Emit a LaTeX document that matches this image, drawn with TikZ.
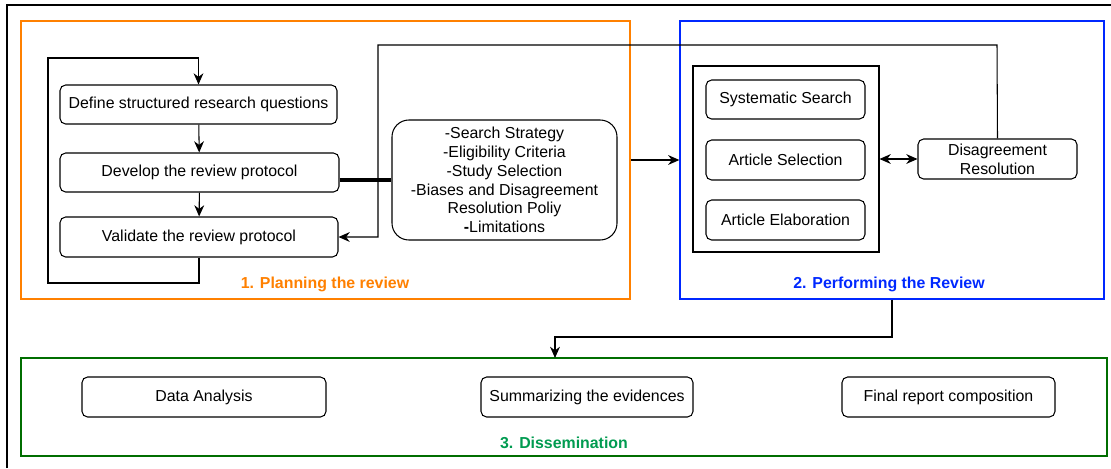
\documentclass[tikz,border=0pt]{standalone}
\usepackage{fontspec}
\setmainfont{Liberation Sans}
\usetikzlibrary{arrows.meta,positioning}
\definecolor{planorange}{RGB}{255,128,0}
\definecolor{perfblue}{RGB}{0,40,255}
\definecolor{dissgreen}{RGB}{0,110,0}
\definecolor{disstext}{RGB}{0,155,80}

\begin{document}
\begin{tikzpicture}[x=0.025cm, y=-0.025cm,
		line width=0.75pt,
		font=\fontsize{11.3}{13.4}\selectfont,
		stepbox/.style={draw, rounded corners=4pt, align=center, inner sep=0pt},
		frame/.style={draw, line width=0.9pt, inner sep=0pt},
		arr/.style={-{Stealth[length=8pt, width=7pt]}},
		phase/.style={font=\fontsize{11.3}{13.4}\selectfont\bfseries},
	]
		\useasboundingbox (0,0) rectangle (1111,468);
		\draw (7,468) -- (7,5) -- (1111,5);

		% phase frames
		\node[frame, draw=planorange, minimum width=609*0.025cm, minimum height=278*0.025cm] (plan) at (325.5,160) {};
		\node[frame, draw=perfblue, minimum width=424*0.025cm, minimum height=278*0.025cm] (perf) at (892,160) {};
		\node[frame, draw=dissgreen, minimum width=1086*0.025cm, minimum height=98*0.025cm] (diss) at (564,407) {};

		\node[phase, text=planorange] (planlbl) at (325,284) {1. Planning the review};
		\node[phase, text=perfblue] (perflbl) at (889,284) {2. Performing the Review};
		\node[phase, text=disstext] (disslbl) at (564,443) {3. Dissemination};

		% planning
		\node[stepbox, minimum width=277*0.025cm, minimum height=39*0.025cm] (define) at (198.5,104.5) {Define structured research questions};
		\node[stepbox, minimum width=279*0.025cm, minimum height=39*0.025cm] (develop) at (199.5,172.5) {Develop the review protocol};
		\node[stepbox, minimum width=278*0.025cm, minimum height=40*0.025cm] (validate) at (199,237) {Validate the review protocol};
		\node[stepbox, rounded corners=12pt, minimum width=225*0.025cm, minimum height=120*0.025cm] (protocol) at (504.5,180)
			{-Search Strategy\\-Eligibility Criteria\\-Study Selection\\-Biases and Disagreement\\Resolution Poliy\\\textbf{-}Limitations};

		\coordinate (loopbot) at (48,283);
		\coordinate (looptop) at (48,58);
		\draw[arr] (define) -- (develop);
		\draw[arr] (develop) -- (validate);
		\draw[arr] (validate.south) |- (loopbot) -- (looptop) -| (define.north);
		\draw[line width=3pt] (develop.east |- protocol.west) -- (protocol.west);

		% performing
		\node[frame, line width=0.75pt, minimum width=186*0.025cm, minimum height=186*0.025cm] (activities) at (786,159) {};
		\node[stepbox, minimum width=159*0.025cm, minimum height=39*0.025cm] (search) at (785.5,99.5) {Systematic Search};
		\node[stepbox, minimum width=159*0.025cm, minimum height=40*0.025cm] (selection) at (785.5,160) {Article Selection};
		\node[stepbox, minimum width=159*0.025cm, minimum height=40*0.025cm] (elaboration) at (785.5,220) {Article Elaboration};
		\node[stepbox, minimum width=159*0.025cm, minimum height=40*0.025cm] (disagree) at (997.5,159) {Disagreement\\Resolution};

		\draw[{Stealth[length=8pt, width=7pt]}-{Stealth[length=8pt, width=7pt]}] (activities.east) -- (disagree.west);
		\coordinate (fbright) at (997,45);
		\coordinate (fbleft) at (378,45);
		\draw[arr] (disagree.north) -- (fbright) -- (fbleft) |- (validate.east);
		\draw[arr] (plan.east) -- (perf.west);

		% dissemination
		\node[stepbox, minimum width=244*0.025cm, minimum height=40*0.025cm] (analysis) at (204,397) {Data Analysis};
		\node[stepbox, minimum width=212*0.025cm, minimum height=40*0.025cm] (summary) at (587,397) {Summarizing the evidences};
		\node[stepbox, minimum width=213*0.025cm, minimum height=40*0.025cm] (report) at (948.5,397) {Final report composition};

		\coordinate (bend) at (892,337);
		\coordinate (dissin) at (555,358);
		\draw[arr] (perf.south) -- (bend) -| (dissin);
	\end{tikzpicture}
\end{document}
